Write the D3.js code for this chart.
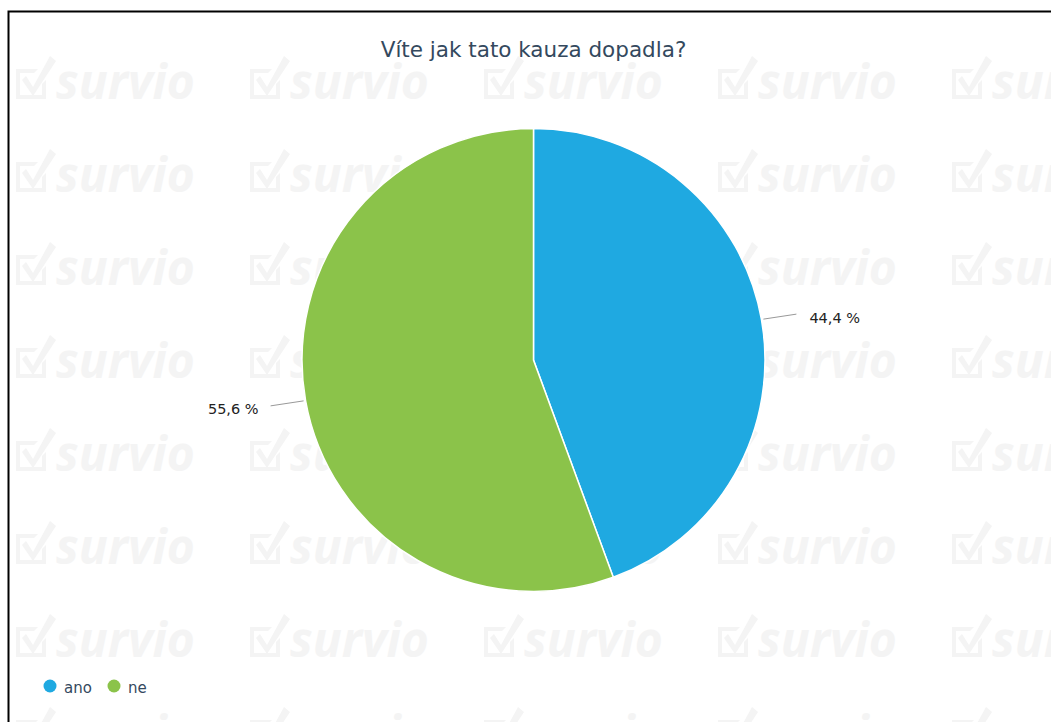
<!DOCTYPE html>
<html>
<head>
<meta charset="utf-8">
<style>
body { margin: 0; background: #fff; }
svg { display: block; font-family: "DejaVu Sans", sans-serif; }
</style>
</head>
<body>
<svg width="1051" height="722"></svg>
<script src="https://d3js.org/d3.v7.min.js"></script>
<script>
var title = "Víte jak tato kauza dopadla?";
var categories = ["ano", "ne"];
var values = [44.4, 55.6];
var labels = ["44,4 %", "55,6 %"];
var colors = ["#1fa9e1", "#8bc34a"];

var svg = d3.select("svg");
var cx = 533.5, cy = 360, r = 231.5;

// watermark
var wm = svg.append("g").attr("fill", "#f4f4f4");
for (var row = 0; row < 8; row++) {
  for (var col = 0; col < 5; col++) {
    var x = 14 + col * 234, y = 99 + row * 93;
    var t = wm.append("g").attr("transform", "translate(" + x + "," + y + ")");
    t.append("path")
      .attr("d", "M2,-30 L24,-30 L20,-26 L6,-26 L6,-4 L28,-4 L28,-15 L32,-19 L32,0 L2,0 Z M8,-19 L12,-23 L19,-12 L36,-43 L42,-38 L19,-3 Z");
    t.append("text").attr("x", 42).attr("y", 0)
      .attr("font-size", 48).attr("font-weight", "bold").attr("font-style", "italic")
      .attr("font-family", "'Open Sans', sans-serif")
      .text("survio");
  }
}

// border
svg.append("path").attr("d", "M8.5,722 L8.5,11.5 L1051,11.5")
  .attr("fill", "none").attr("stroke", "#000").attr("stroke-width", 2);

svg.append("text").attr("x", cx).attr("y", 57).attr("text-anchor", "middle")
  .attr("font-size", 21.5).attr("fill", "#34495e").text(title);

var data = categories.map(function(c, i) { return {cat: c, value: values[i], label: labels[i], color: colors[i]}; });
var pie = d3.pie().sort(null).value(function(d) { return d.value; });
var arc = d3.arc().innerRadius(0).outerRadius(r);
var arcs = pie(data);

var g = svg.append("g").attr("transform", "translate(" + cx + "," + cy + ")");
g.selectAll("path.slice").data(arcs).enter().append("path")
  .attr("class", "slice")
  .attr("d", arc)
  .attr("fill", function(d) { return d.data.color; })
  .attr("stroke", "#fff").attr("stroke-width", 1.5);

// labels with leader lines
arcs.forEach(function(d) {
  var mid = (d.startAngle + d.endAngle) / 2;
  var right = Math.sin(mid) > 0;
  var x0 = Math.sin(mid) * (r + 2), y0 = -Math.cos(mid) * (r + 2);
  var x1 = x0 + (right ? 33 : -33), y1 = y0 - 5 * Math.sign(Math.cos(mid));
  g.append("path")
    .attr("d", "M" + x0 + "," + y0 + " L" + x1 + "," + y1)
    .attr("fill", "none").attr("stroke", "#999").attr("stroke-width", 1);
  g.append("text")
    .attr("x", x1 + (right ? 13 : -12)).attr("y", y1 + 8.5)
    .attr("text-anchor", right ? "start" : "end")
    .attr("font-size", 14.5).attr("fill", "#222")
    .text(d.data.label);
});

// legend
var leg = svg.append("g").attr("transform", "translate(50,686)");
var lx = 0;
data.forEach(function(d) {
  var it = leg.append("g").attr("transform", "translate(" + lx + ",0)");
  it.append("circle").attr("r", 6.5).attr("fill", d.color);
  it.append("text").attr("x", 14).attr("y", 6.5).attr("font-size", 15).attr("fill", "#34495e").text(d.cat);
  lx += 64;
});
</script>
</body>
</html>
